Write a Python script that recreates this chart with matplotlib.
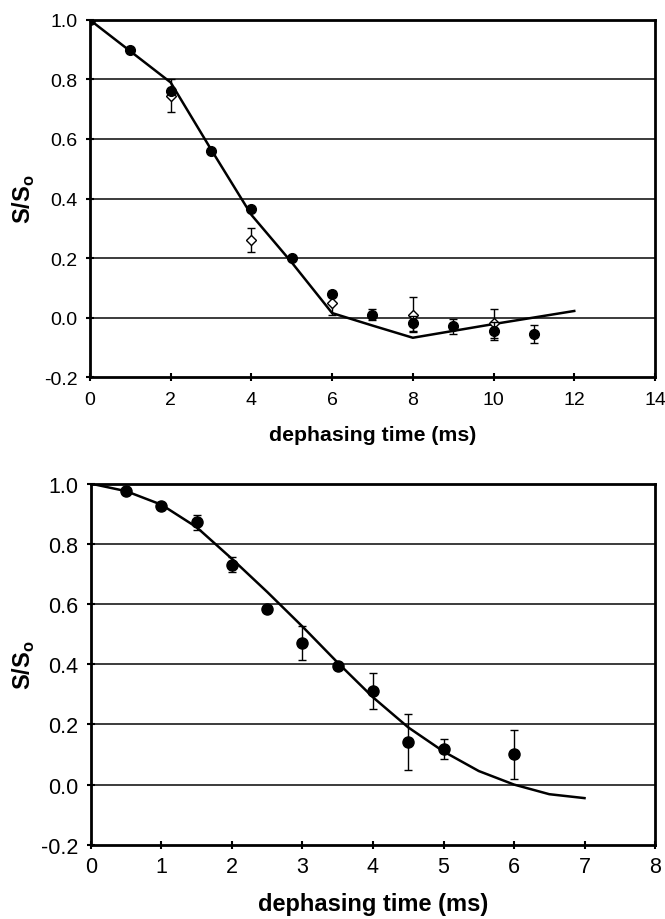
import matplotlib
matplotlib.use("Agg")
import matplotlib.pyplot as plt
import numpy as np

plt.rcParams['font.family'] = ['Liberation Sans', 'DejaVu Sans']

# ---- top panel data ----
top_fit_x = [0, 1, 2, 3, 4, 5, 6, 7, 8, 9, 10, 11, 12]
top_fit_y = [1.0, 0.895, 0.79, 0.565, 0.345, 0.185, 0.015, -0.027, -0.068, -0.045, -0.022, 0.0, 0.022]
top_dot_x = [0, 1, 2, 3, 4, 5, 6, 7, 8, 9, 10, 11]
top_dot_y = [1.0, 0.90, 0.76, 0.56, 0.365, 0.20, 0.08, 0.01, -0.02, -0.03, -0.045, -0.055]
top_dot_err = [0, 0, 0, 0, 0, 0, 0, 0.02, 0.025, 0.025, 0.03, 0.03]
top_dia_x = [2, 4, 6, 8, 10]
top_dia_y = [0.745, 0.26, 0.05, 0.01, -0.02]
top_dia_err = [0.055, 0.04, 0.04, 0.06, 0.05]

# ---- bottom panel data ----
bot_fit_x = [0, 0.5, 1, 1.5, 2, 2.5, 3, 3.5, 4, 4.5, 5, 5.5, 6, 6.5, 7]
bot_fit_y = [1.0, 0.975, 0.93, 0.855, 0.75, 0.64, 0.525, 0.405, 0.29, 0.19, 0.11, 0.045, 0.0, -0.032, -0.045]
bot_dot_x = [0.5, 1, 1.5, 2, 2.5, 3, 3.5, 4, 4.5, 5, 6]
bot_dot_y = [0.975, 0.925, 0.872, 0.73, 0.582, 0.471, 0.393, 0.311, 0.141, 0.118, 0.101]
bot_dot_err = [0, 0, 0.025, 0.025, 0, 0.057, 0, 0.06, 0.093, 0.033, 0.082]

yticks = [-0.2, 0.0, 0.2, 0.4, 0.6, 0.8, 1.0]
ytick_labels = ['-0.2', '0.0', '0.2', '0.4', '0.6', '0.8', '1.0']

fig = plt.figure(figsize=(6.65, 9.2), dpi=100)
ax1 = fig.add_axes([0.1353, 0.5891, 0.8496, 0.3881])
ax2 = fig.add_axes([0.1368, 0.0807, 0.8482, 0.3925])

def style(ax, xmax, xticks, fs, xpad, ypad, ylfs, ylx):
    ax.set_xlim(0, xmax)
    ax.set_ylim(-0.2, 1.0)
    ax.set_xticks(xticks)
    ax.set_xticklabels([str(t) for t in xticks])
    ax.set_yticks(yticks)
    ax.set_yticklabels(ytick_labels)
    for y in yticks[1:-1]:
        ax.axhline(y, color='#1a1a1a', lw=1.2, zorder=1)
    for s in ax.spines.values():
        s.set_linewidth(2.0)
        s.set_color('black')
    ax.tick_params(axis='both', direction='inout', length=6, width=1.5, labelsize=fs)
    ax.tick_params(axis='x', pad=xpad)
    ax.tick_params(axis='y', pad=ypad)
    ax.set_ylabel('S/S$_\\mathregular{o}$', fontsize=ylfs, fontweight='bold')
    ax.yaxis.set_label_coords(ylx, 0.5)

style(ax1, 14, [0, 2, 4, 6, 8, 10, 12, 14], 14, 7, 6, 17, -0.094)
ax1.plot(top_fit_x, top_fit_y, color='black', lw=1.8, zorder=3)
ax1.errorbar(top_dia_x, top_dia_y, yerr=top_dia_err, fmt='D', mfc='white', mec='black',
             mew=1.0, ms=5.5, ecolor='black', elinewidth=1.0, capsize=3, capthick=1.0, zorder=4)
ax1.errorbar(top_dot_x, top_dot_y, yerr=top_dot_err, fmt='o', color='black', ms=7,
             ecolor='black', elinewidth=1.0, capsize=3, capthick=1.0, zorder=5)
ax1.set_xlabel('dephasing time (ms)', fontsize=15.3, fontweight='bold', labelpad=12)

style(ax2, 8, [0, 1, 2, 3, 4, 5, 6, 7, 8], 15.5, 5, 6, 17, -0.096)
ax2.plot(bot_fit_x, bot_fit_y, color='black', lw=1.8, zorder=3)
ax2.errorbar(bot_dot_x, bot_dot_y, yerr=bot_dot_err, fmt='o', color='black', ms=8,
             ecolor='black', elinewidth=1.0, capsize=3, capthick=1.0, zorder=5)
ax2.set_xlabel('dephasing time (ms)', fontsize=17, fontweight='bold', labelpad=11)

fig.savefig('out.png', dpi=100)
